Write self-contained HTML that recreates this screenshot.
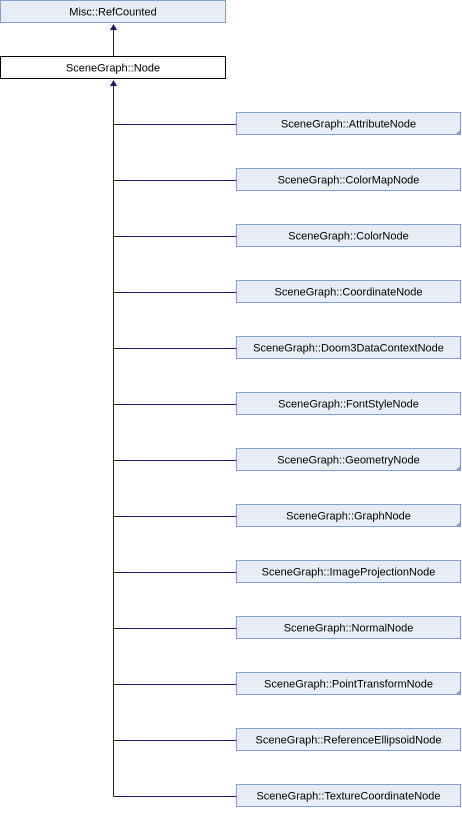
<!DOCTYPE html>
<html><head><meta charset="utf-8"><style>html,body{margin:0;padding:0;background:#fff}</style></head>
<body>
<svg width="462" height="808" xmlns="http://www.w3.org/2000/svg" font-family="Liberation Sans, sans-serif" font-size="11">
<rect x="0.5" y="0.5" width="225" height="22" fill="#e8ecf5" stroke="#84a0d4"/>
<text x="113" y="15.5" text-anchor="middle" fill="#000">Misc::RefCounted</text>
<line x1="113.5" y1="56" x2="113.5" y2="28" stroke="#191970"/>
<polygon points="113.5,24 110,30 117,30" fill="#191970"/>
<rect x="0.5" y="56.5" width="225" height="22" fill="#fff" stroke="#000"/>
<text x="113" y="71.5" text-anchor="middle">SceneGraph::Node</text>
<line x1="113.5" y1="84" x2="113.5" y2="796.5" stroke="#191970"/>
<polygon points="113.5,80 110,86 117,86" fill="#191970"/>
<g id="kids"></g>
</svg>
<script>
var names=["AttributeNode","ColorMapNode","ColorNode","CoordinateNode","Doom3DataContextNode","FontStyleNode","GeometryNode","GraphNode","ImageProjectionNode","NormalNode","PointTransformNode","ReferenceEllipsoidNode","TextureCoordinateNode"];
var tri={0:1,6:1,7:1,10:1};
var s="";
names.forEach(function(n,i){var y=112+i*56;
s+='<line x1="113.5" y1="'+(y+12.5)+'" x2="236" y2="'+(y+12.5)+'" stroke="#191970"/>';
s+='<rect x="236.5" y="'+(y+0.5)+'" width="224" height="22" fill="#e8ecf5" stroke="#84a0d4"/>';
s+='<text x="348.5" y="'+(y+15.5)+'" text-anchor="middle">SceneGraph::'+n+'</text>';
if(tri[i])s+='<polygon points="461,'+(y+17)+' 461,'+(y+23)+' 455,'+(y+23)+'" fill="#84a0d4"/>';
});
document.getElementById("kids").innerHTML=s;
</script>
</body></html>
